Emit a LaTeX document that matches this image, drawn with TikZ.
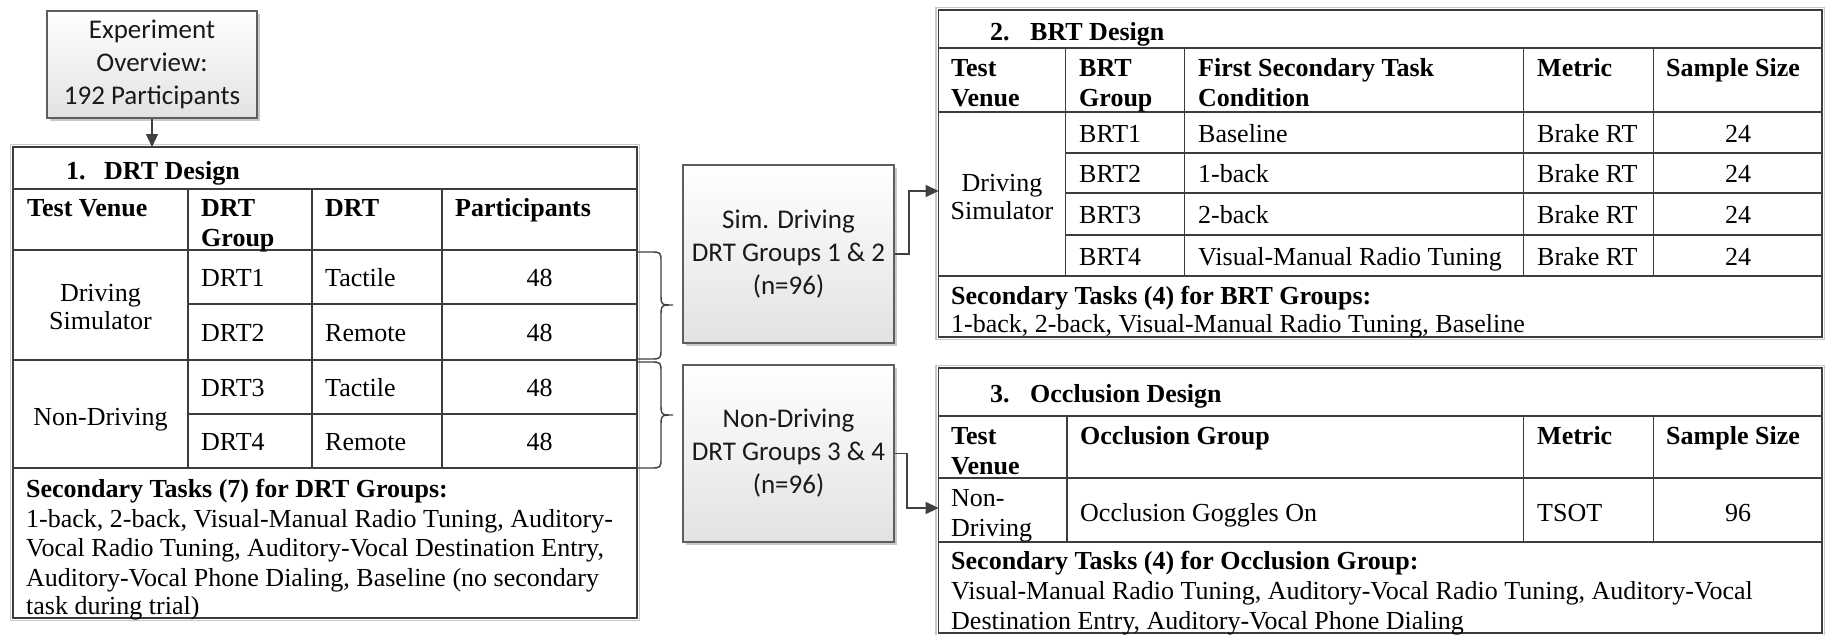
\documentclass[tikz,border=0pt]{standalone}
\usepackage{fontspec}
\setmainfont{Liberation Serif}
\newfontfamily\boxfont{Carlito}
\usetikzlibrary{arrows.meta,shadows}

\definecolor{tabline}{HTML}{3C3C3C}
\definecolor{halo}{HTML}{C8C8C8}
\definecolor{boxline}{HTML}{5E5E5E}
\definecolor{connc}{HTML}{404040}
\definecolor{boxbottom}{HTML}{E2E2E2}
\definecolor{boxtext}{HTML}{1A1A1A}

% curly brace: left ends at x=638, spine at x=661, point at x=673
% #1 top, #2 point, #3 bottom (page y, downward)
\newcommand{\groupbrace}[3]{%
  \draw[bracestyle] (638,#1) -- (650,#1) .. controls (661,#1) .. (661,#1+11)
    -- (661,#2-12) .. controls (661,#2) .. (673,#2)
    .. controls (661,#2) .. (661,#2+12)
    -- (661,#3-11) .. controls (661,#3) .. (650,#3) -- (638,#3);}

\begin{document}
\begin{tikzpicture}[x=1pt,y=-1pt,
  frame/.style={draw=tabline, line width=1.3pt, inner sep=0pt, outer sep=0pt},
  gridline/.style={draw=tabline, line width=1.3pt},
  haloline/.style={draw=halo, line width=1.6pt},
  tab/.style={font=\fontsize{26}{30}\selectfont, inner sep=0pt, anchor=base west},
  tabc/.style={font=\fontsize{26}{30}\selectfont, inner sep=0pt, anchor=base},
  tabb/.style={font=\fontsize{26}{30}\selectfont\bfseries, inner sep=0pt, anchor=base west},
  flowbox/.style={draw=boxline, line width=1.3pt, top color=white, bottom color=boxbottom,
    drop shadow={shadow xshift=3pt, shadow yshift=-3pt, opacity=0.35, fill=black!60},
    align=center, text=boxtext, inner sep=0pt,
    font=\boxfont\fontsize{27}{33}\selectfont},
  conn/.style={draw=connc, line width=1.5pt, -{Triangle[length=13pt,width=12pt]}},
  bracestyle/.style={draw=connc, line width=1.4pt},
]
\useasboundingbox (0,0) rectangle (1827,634);
\fill[white] (0,0) rectangle (1827,634);

% ---------- overview box ----------
\node[flowbox, minimum width=210pt, minimum height=107pt] (exp) at (152,64.5)
  {Experiment\\Overview:\\192 Participants};

% ---------- table 1: DRT design ----------
\draw[haloline] (10.5,144.5) rectangle (639.5,620.5);
\node[frame, minimum width=624pt, minimum height=471pt, anchor=north west] (drt) at (13,147) {};
\draw[gridline] (13,189) -- (637,189);
\draw[gridline] (13,250) -- (637,250);
\draw[gridline] (13,360) -- (637,360);
\draw[gridline] (13,468) -- (637,468);
\draw[gridline] (188,304) -- (637,304);
\draw[gridline] (188,414) -- (637,414);
\foreach \cx in {188,312,442} \draw[gridline] (\cx,189) -- (\cx,468);

\node[tabb] (drt-num) at (66,179) {1.};
\node[tabb] (drt-title) at (104,179) {DRT Design};
\node[tabb] (drt-h1) at (27,216) {Test Venue};
\node[tabb] (drt-h2a) at (201,216) {DRT};
\node[tabb] (drt-h2b) at (201,246) {Group};
\node[tabb] (drt-h3) at (325,216) {DRT};
\node[tabb] (drt-h4) at (455,216) {Participants};

\node[tabc] (drt-v1a) at (100.5,301) {Driving};
\node[tabc] (drt-v1b) at (100.5,329) {Simulator};
\node[tabc] (drt-v2) at (100.5,425) {Non-Driving};

\node[tab] (drt-g1) at (201,286) {DRT1};
\node[tab] (drt-g2) at (201,341) {DRT2};
\node[tab] (drt-g3) at (201,396) {DRT3};
\node[tab] (drt-g4) at (201,450) {DRT4};
\node[tab] (drt-d1) at (325,286) {Tactile};
\node[tab] (drt-d2) at (325,341) {Remote};
\node[tab] (drt-d3) at (325,396) {Tactile};
\node[tab] (drt-d4) at (325,450) {Remote};
\node[tabc] (drt-p1) at (539.5,286) {48};
\node[tabc] (drt-p2) at (539.5,341) {48};
\node[tabc] (drt-p3) at (539.5,396) {48};
\node[tabc] (drt-p4) at (539.5,450) {48};

\node[tabb] (drt-s0) at (26,497) {Secondary Tasks (7) for DRT Groups:};
\node[tab] (drt-s1) at (26,527) {1-back, 2-back, Visual-Manual Radio Tuning, Auditory-};
\node[tab] (drt-s2) at (26,556) {Vocal Radio Tuning, Auditory-Vocal Destination Entry,};
\node[tab] (drt-s3) at (26,586) {Auditory-Vocal Phone Dialing, Baseline (no secondary};
\node[tab] (drt-s4) at (26,614) {task during trial)};

\draw[conn] (exp.south) -- (exp.south |- drt.north);

% ---------- braces and group boxes ----------
\groupbrace{252}{305}{359}
\groupbrace{362}{415}{468}

\node[flowbox, minimum width=211pt, minimum height=178pt] (sim) at (788.5,254)
  {Sim. Driving\\DRT Groups 1 \& 2\\(n=96)};
\node[flowbox, minimum width=211pt, minimum height=177pt] (nondrv) at (788.5,453.5)
  {Non-Driving\\DRT Groups 3 \& 4\\(n=96)};

% ---------- table 2: BRT design ----------
\draw[haloline] (936,7.5) rectangle (1824.5,339.5);
\node[frame, minimum width=883.4pt, minimum height=327pt, anchor=north west] (brt) at (938.6,10) {};
\draw[gridline] (938.6,48) -- (1822,48);
\draw[gridline] (938.6,112) -- (1822,112);
\draw[gridline] (938.6,276) -- (1822,276);
\foreach \ry in {153,193,235} \draw[gridline] (1065.6,\ry) -- (1822,\ry);
\foreach \cx in {1065.6,1184.5,1523.7,1653.6} \draw[gridline] (\cx,48) -- (\cx,276);

\node[tabb] (brt-num) at (990,41) {2.};
\node[tabb] (brt-title) at (1030,41) {BRT Design};
\node[tabb] (brt-h1a) at (951,76) {Test};
\node[tabb] (brt-h1b) at (951,106) {Venue};
\node[tabb] (brt-h2a) at (1079,76) {BRT};
\node[tabb] (brt-h2b) at (1079,106) {Group};
\node[tabb] (brt-h3a) at (1198,76) {First Secondary Task};
\node[tabb] (brt-h3b) at (1198,106) {Condition};
\node[tabb] (brt-h4) at (1537,76) {Metric};
\node[tabb] (brt-h5) at (1666,76) {Sample Size};

\node[tabc] (brt-va) at (1002,191) {Driving};
\node[tabc] (brt-vb) at (1002,219) {Simulator};

\node[tab] (brt-g1) at (1079,142) {BRT1};
\node[tab] (brt-g2) at (1079,182) {BRT2};
\node[tab] (brt-g3) at (1079,223) {BRT3};
\node[tab] (brt-g4) at (1079,265) {BRT4};
\node[tab] (brt-c1) at (1198,142) {Baseline};
\node[tab] (brt-c2) at (1198,182) {1-back};
\node[tab] (brt-c3) at (1198,223) {2-back};
\node[tab] (brt-c4) at (1198,265) {Visual-Manual Radio Tuning};
\foreach \ry/\nm in {142/1,182/2,223/3,265/4} {
  \node[tab] (brt-m\nm) at (1537,\ry) {Brake RT};
  \node[tabc] (brt-n\nm) at (1738,\ry) {24};
}
\node[tabb] (brt-s0) at (951,304) {Secondary Tasks (4) for BRT Groups:};
\node[tab] (brt-s1) at (951,332) {1-back, 2-back, Visual-Manual Radio Tuning, Baseline};

% ---------- table 3: occlusion design ----------
\draw[haloline] (936,365.5) rectangle (1824.5,636);
\node[frame, minimum width=883.4pt, minimum height=265pt, anchor=north west] (occ) at (938.6,368) {};
\draw[gridline] (938.6,416) -- (1822,416);
\draw[gridline] (938.6,478) -- (1822,478);
\draw[gridline] (938.6,542) -- (1822,542);
\foreach \cx in {1067,1523.7,1653.6} \draw[gridline] (\cx,416) -- (\cx,542);

\node[tabb] (occ-num) at (990,402) {3.};
\node[tabb] (occ-title) at (1030,402) {Occlusion Design};
\node[tabb] (occ-h1a) at (951,444) {Test};
\node[tabb] (occ-h1b) at (951,474) {Venue};
\node[tabb] (occ-h2) at (1080,444) {Occlusion Group};
\node[tabb] (occ-h3) at (1537,444) {Metric};
\node[tabb] (occ-h4) at (1666,444) {Sample Size};
\node[tab] (occ-va) at (951,506) {Non-};
\node[tab] (occ-vb) at (951,536) {Driving};
\node[tab] (occ-g) at (1080,521) {Occlusion Goggles On};
\node[tab] (occ-m) at (1537,521) {TSOT};
\node[tabc] (occ-n) at (1738,521) {96};
\node[tabb] (occ-s0) at (951,569) {Secondary Tasks (4) for Occlusion Group:};
\node[tab] (occ-s1) at (951,599) {Visual-Manual Radio Tuning, Auditory-Vocal Radio Tuning, Auditory-Vocal};
\node[tab] (occ-s2) at (951,629) {Destination Entry, Auditory-Vocal Phone Dialing};

% ---------- connectors from the group boxes ----------
\coordinate (simturn) at (909,254);
\coordinate (ndturn) at (907,453.5);
\draw[conn] (sim.east) -- (simturn) -- (simturn |- 0,191) -- (brt.west |- 0,191);
\draw[conn] (nondrv.east) -- (ndturn) -- (ndturn |- 0,508) -- (occ.west |- 0,508);
\end{tikzpicture}
\end{document}
